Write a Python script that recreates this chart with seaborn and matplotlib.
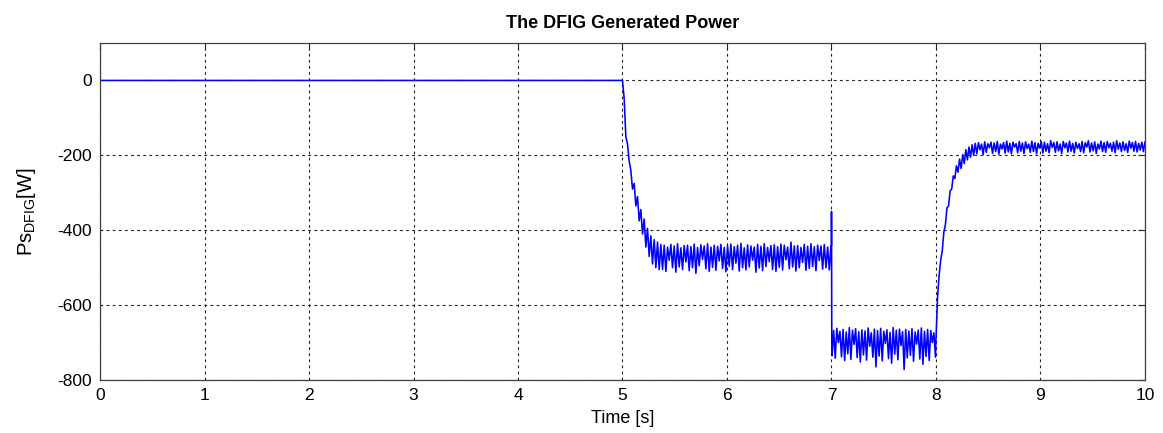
import numpy as np
import pandas as pd
import matplotlib
matplotlib.use("Agg")
import matplotlib.pyplot as plt
import seaborn as sns

# ---------------- data ----------------
# 0 .. 5 s : zero output
seg0_time = [0.0, 5.0]
seg0_vals = [0, 0]

# 5 .. 7 s : first step (transient then ripple band around -470 W)
seg1_vals = [
    0, -48, -150, -170, -215, -240, -290, -275, -335, -310, -375, -345,
    -410, -370, -445, -395, -470, -415, -490, -425, -500, -432, -505, -438,
    -505, -440, -510, -445, -480, -438, -500, -442, -512, -436,
    -498, -447, -505, -441, -485, -440, -508, -444, -500, -437,
    -515, -446, -495, -439, -478, -442, -503, -436, -510, -445,
    -499, -440, -507, -443, -482, -438, -502, -446, -511, -441,
    -496, -437, -505, -444, -488, -440, -509, -435, -500, -447,
    -506, -439, -498, -442, -480, -445, -512, -438, -501, -443,
    -508, -436, -497, -446, -484, -441, -505, -439, -510, -444,
    -499, -437, -506, -440, -479, -445, -503, -432, -498, -442,
    -509, -441, -500, -446, -486, -438, -507, -443, -502, -436,
    -497, -444, -508, -440, -481, -442, -504, -438, -500, -445,
    -506, -441,
]

# spike at the 7 s step
step7_time = [7.0, 7.0, 7.003]
step7_vals = [-441, -350, -700]

# 7 .. 8 s : second step, ripple band around -705 W
seg2_vals = [
    -735, -668, -742, -662, -700, -670, -738, -665, -748, -672,
    -730, -660, -745, -667, -705, -663, -740, -671, -752, -666,
    -733, -669, -747, -661, -710, -674, -739, -664, -765, -668,
    -736, -662, -749, -670, -702, -666, -743, -673, -755, -660,
    -731, -667, -746, -664, -708, -671, -772, -665, -741, -669,
    -734, -663, -750, -672, -704, -667, -744, -661, -758, -670,
    -737, -665, -748, -668, -700, -674, -739,
]

# 8 .. 10 s : third step, rise to a ripple band around -178 W
seg3_vals = [
    -690, -580, -520, -480, -455, -405, -385, -340, -335, -295, -290, -255,
    -262, -228, -245, -210, -235, -198, -222, -185, -212, -178, -205, -172,
    -200,
    -168, -196, -166, -185, -170, -198, -164, -192, -169, -180,
    -165, -195, -167, -190, -163, -197, -170, -183, -166, -194,
    -162, -191, -168, -196, -165, -178, -169, -193, -163, -189,
    -167, -195, -164, -182, -170, -192, -162, -190, -166, -196,
    -168, -181, -163, -194, -165, -189, -169, -193, -161, -179,
    -166, -192, -164, -188, -170, -195, -163, -180, -167, -191,
    -162, -189, -168, -194, -165, -182, -169, -190, -163, -193,
    -166, -178, -161, -191, -167, -188, -164, -195, -170, -183,
    -162, -190, -166, -192, -163, -180, -168, -189, -165, -193,
    -161, -184, -167, -190, -164, -187, -169, -192, -162, -181,
    -166, -189, -163, -191, -168, -186, -165, -190, -164,
]

x_ticks = [0, 1, 2, 3, 4, 5, 6, 7, 8, 9, 10]
y_ticks = [-800, -600, -400, -200, 0]

# sample grids (uniform time steps of the simulation output)
seg1_time = np.linspace(5.0, 6.995, len(seg1_vals))
seg2_time = np.linspace(7.006, 7.995, len(seg2_vals))
seg3_time = np.linspace(8.0, 10.0, len(seg3_vals))

time = np.concatenate([seg0_time, seg1_time, step7_time, seg2_time, seg3_time])
power = np.concatenate([seg0_vals, seg1_vals, step7_vals, seg2_vals, seg3_vals])
df = pd.DataFrame({"t": time, "p": power})

# ---------------- style ----------------
sns.set_style("white")
plt.rcParams["font.family"] = ["Liberation Sans", "DejaVu Sans"]
plt.rcParams["mathtext.fontset"] = "custom"
plt.rcParams["mathtext.rm"] = "Liberation Sans"
plt.rcParams["mathtext.it"] = "Liberation Sans"
plt.rcParams["axes.unicode_minus"] = False
plt.rcParams["text.color"] = "black"
plt.rcParams["axes.labelcolor"] = "black"

fig = plt.figure(figsize=(11.63, 4.33), dpi=100)
ax = fig.add_axes([0.086, 0.1224, 0.8985, 0.7783])

sns.lineplot(data=df, x="t", y="p", sort=False, estimator=None,
             color="#0000ff", linewidth=1.15, ax=ax)

ax.set_xlim(0, 10)
ax.set_ylim(-800, 100)
ax.set_xticks(x_ticks)
ax.set_yticks(y_ticks)
ax.tick_params(direction="in", length=5, width=0.8, colors="#262626",
               labelsize=12.5, top=True, right=True, labelcolor="black", pad=6)
ax.grid(True, color="#222222", linestyle=(0, (2.5, 3)), linewidth=0.8)
for s in ax.spines.values():
    s.set_color("#404040")
    s.set_linewidth(0.9)

ax.set_title("The DFIG Generated Power", fontsize=13, fontweight="bold",
             pad=11, color="black")
ax.set_xlabel("Time [s]", fontsize=13, labelpad=5)
ax.set_ylabel(r"Ps$_{\rm DFIG}$[W]", fontsize=14.5, labelpad=14)

fig.savefig("out.png", dpi=100)
